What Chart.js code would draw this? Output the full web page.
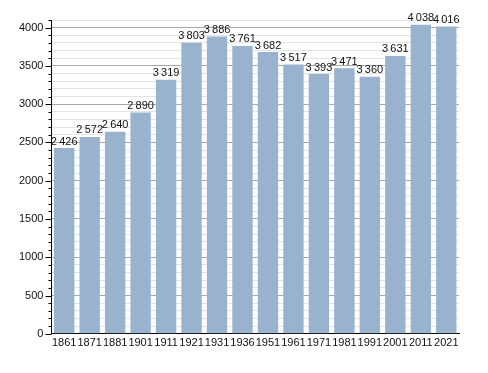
<!DOCTYPE html>
<html>
<head>
<meta charset="utf-8">
<script src="https://cdn.jsdelivr.net/npm/chart.js@4/dist/chart.umd.min.js"></script>
<style>
  html, body { margin: 0; padding: 0; background: #fff; }
  #wrap { width: 488px; height: 373px; }
</style>
</head>
<body>
<div id="wrap"><canvas id="popChart" width="488" height="373"></canvas></div>
<script>
const years = ["1861", "1871", "1881", "1901", "1911", "1921", "1931", "1936",
               "1951", "1961", "1971", "1981", "1991", "2001", "2011", "2021"];
const population = [2426, 2572, 2640, 2890, 3319, 3803, 3886, 3761,
                    3682, 3517, 3393, 3471, 3360, 3631, 4038, 4016];

const fmt = v => String(v).replace(/\B(?=(\d{3})+(?!\d))/g, "\u2009");

// value labels above each bar
const valueLabels = {
  id: "valueLabels",
  afterDatasetsDraw(chart) {
    const ctx = chart.ctx;
    const meta = chart.getDatasetMeta(0);
    ctx.save();
    ctx.font = "11px 'Liberation Sans', Arial, sans-serif";
    ctx.fillStyle = "#111";
    ctx.textAlign = "center";
    ctx.textBaseline = "bottom";
    meta.data.forEach((bar, i) => {
      ctx.fillText(fmt(population[i]), bar.x, bar.y - 1);
    });
    ctx.restore();
  }
};

// short minor ticks on the y axis
const minorTicks = {
  id: "minorTicks",
  afterDraw(chart) {
    const y = chart.scales.y;
    const ctx = chart.ctx;
    ctx.save();
    ctx.strokeStyle = "#000";
    ctx.lineWidth = 1;
    y.ticks.forEach(t => {
      const py = Math.round(y.getPixelForValue(t.value)) + 0.5;
      const len = t.value % 500 === 0 ? 6 : 3;
      ctx.beginPath();
      ctx.moveTo(y.right - len, py);
      ctx.lineTo(y.right, py);
      ctx.stroke();
    });
    ctx.restore();
  }
};

new Chart(document.getElementById("popChart"), {
  type: "bar",
  data: {
    labels: years,
    datasets: [{
      data: population,
      backgroundColor: "#99b3cf",
      borderWidth: 0,
      barPercentage: 0.8,
      categoryPercentage: 1.0
    }]
  },
  options: {
    responsive: false,
    animation: false,
    layout: { padding: { top: 20, right: 29, bottom: 20, left: 11 } },
    plugins: { legend: { display: false }, tooltip: { enabled: false } },
    scales: {
      x: {
        grid: { display: false, drawTicks: false },
        border: { color: "#000", width: 1 },
        ticks: {
          color: "#111",
          padding: 3,
          maxRotation: 0,
          autoSkip: false,
          font: { family: "'Liberation Sans', Arial, sans-serif", size: 11 }
        }
      },
      y: {
        min: 0,
        max: 4100,
        grid: {
          drawTicks: false,
          color: ctx => (ctx.tick && ctx.tick.value % 500 === 0) ? "#a8a8a8" : "#e3e3e3",
          lineWidth: 1
        },
        border: { color: "#000", width: 1 },
        ticks: {
          stepSize: 100,
          autoSkip: false,
          padding: 8,
          color: "#111",
          font: { family: "'Liberation Sans', Arial, sans-serif", size: 11 },
          callback: v => (v % 500 === 0 ? String(v) : "")
        }
      }
    }
  },
  plugins: [valueLabels, minorTicks]
});
</script>
</body>
</html>
